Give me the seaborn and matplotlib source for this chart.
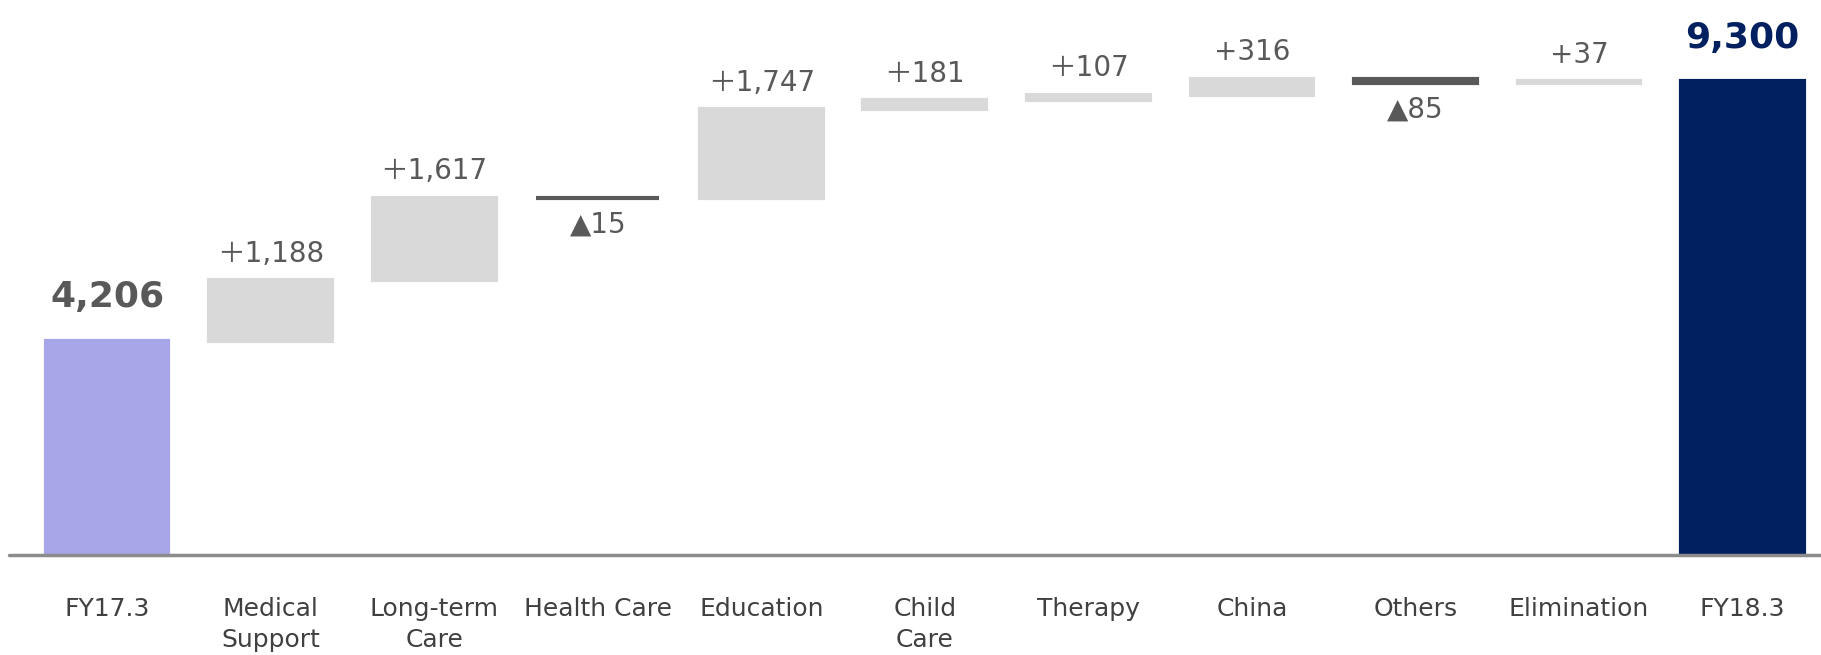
import numpy as np
import pandas as pd
import seaborn as sns
from matplotlib import pyplot as plt

categories = [
    "FY17.3",
    "Medical\nSupport",
    "Long-term\nCare",
    "Health Care",
    "Education",
    "Child\nCare",
    "Therapy",
    "China",
    "Others",
    "Elimination",
    "FY18.3",
]
start_total = 4206
end_total = 9300
changes = [1188, 1617, -15, 1747, 181, 107, 316, -85, 37]
change_labels = ["＋1,188", "＋1,617", "▲15", "＋1,747", "＋181", "＋107", "+316", "▲85", "+37"]
total_labels = ["4,206", "9,300"]

# waterfall extents from the running total
steps = np.cumsum([start_total] + changes)
low = [0] + list(np.minimum(steps[:-1], steps[1:])) + [0]
high = [start_total] + list(np.maximum(steps[:-1], steps[1:])) + [end_total]

df = pd.DataFrame({"category": categories, "low": low, "high": high})
df["height"] = df["high"] - df["low"]

up_color, down_color = "#d9d9d9", "#595959"
bar_colors = ["#a6a6e8"] + [up_color if c > 0 else down_color for c in changes] + ["#002060"]

sns.set_theme(style="white")
plt.rcParams["font.family"] = ["DejaVu Sans", "Noto Sans CJK JP"]

fig = plt.figure(figsize=(18.21, 6.55), dpi=100)
ax = fig.add_axes([9 / 1821, 100 / 655, 1812 / 1821, 555 / 655])

sns.barplot(
    data=df,
    x="category",
    y="height",
    bottom=df["low"].to_numpy(),
    width=0.75,
    color=up_color,
    saturation=1,
    errorbar=None,
    ax=ax,
)
for patch, c in zip(ax.patches, bar_colors):
    patch.set_facecolor(c)
    patch.set_edgecolor(c)
    patch.set_linewidth(3)

ax.axhline(0, color="#8c8c8c", lw=2.5, zorder=5, clip_on=False)

# value labels
text_color = "#595959"
ax.annotate(total_labels[0], (0, high[0]), xytext=(0, 19), textcoords="offset points",
            ha="center", va="bottom", fontsize=26, fontweight="bold", color=text_color)
ax.annotate(total_labels[1], (10, high[-1]), xytext=(0, 19), textcoords="offset points",
            ha="center", va="bottom", fontsize=26, fontweight="bold", color="#002060")
for i, (c, lab) in enumerate(zip(changes, change_labels), start=1):
    if c > 0:
        ax.annotate(lab, (i, high[i]), xytext=(0, 9), textcoords="offset points",
                    ha="center", va="bottom", fontsize=20, color=text_color)
    else:
        ax.annotate(lab, (i, low[i]), xytext=(0, -9), textcoords="offset points",
                    ha="center", va="top", fontsize=20, color=text_color)

ax.set_xlim(-0.6, 10.48)
ax.set_ylim(0, 10889)
ax.set_xticks(range(len(categories)))
ax.set_xticklabels(categories, fontsize=18, color="#404040")
for lbl in ax.get_xticklabels():
    lbl.set_linespacing(1.4)
ax.tick_params(axis="x", length=0, pad=30)
ax.set_yticks([])
ax.set_xlabel("")
ax.set_ylabel("")
sns.despine(ax=ax, left=True, bottom=True)

fig.savefig("out.png", dpi=100)
